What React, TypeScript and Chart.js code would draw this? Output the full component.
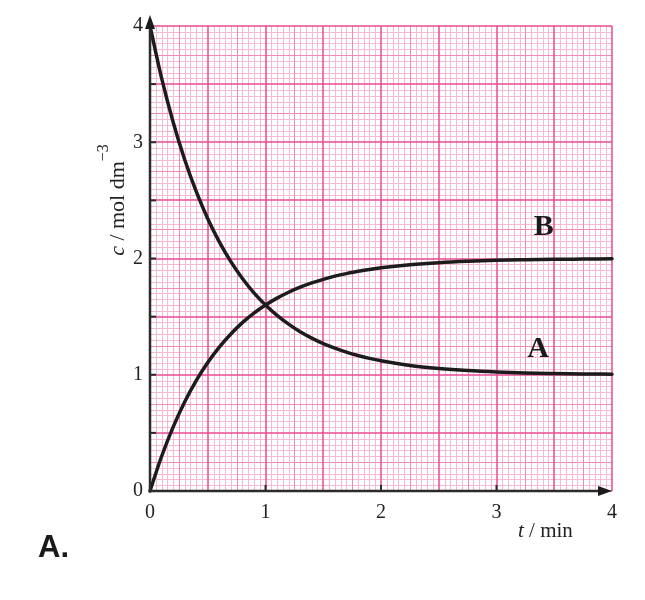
import React, { useEffect, useRef } from "react";
import { Chart, registerables } from "chart.js";

Chart.register(...registerables);

// time in minutes
const timeMin = [0, 0.1, 0.2, 0.3, 0.4, 0.5, 0.6, 0.7, 0.8, 0.9, 1.0, 1.1, 1.2, 1.3, 1.4, 1.5, 1.6, 1.7, 1.8, 1.9, 2.0, 2.25, 2.5, 2.75, 3.0, 3.25, 3.5, 3.75, 4.0];
// concentration of A (mol dm^-3)
const concA = [4.0, 3.554, 3.175, 2.852, 2.577, 2.342, 2.143, 1.973, 1.828, 1.705, 1.6, 1.511, 1.435, 1.37, 1.315, 1.268, 1.229, 1.195, 1.166, 1.141, 1.12, 1.08, 1.054, 1.036, 1.024, 1.016, 1.011, 1.007, 1.005];
// concentration of B (mol dm^-3)
const concB = [0, 0.297, 0.55, 0.766, 0.949, 1.105, 1.238, 1.351, 1.448, 1.53, 1.6, 1.659, 1.71, 1.753, 1.79, 1.821, 1.848, 1.87, 1.89, 1.906, 1.92, 1.946, 1.964, 1.976, 1.984, 1.989, 1.993, 1.995, 1.997];

const xLabelValues = [0, 1, 2, 3, 4];
const yLabelValues = [0, 1, 2, 3, 4];
const xTickMarks = [1, 2, 3];
const yTickMarks = [0.5, 1, 1.5, 2, 2.5, 3, 3.5];

const curveNames = ["A", "B"];
const curveLabelT = [3.36, 3.41];
const curveLabelC = [1.15, 2.2];

const AXIS_MIN = 0;
const AXIS_MAX = 4;

function gridKind(v: number): number {
  const r = Math.round(v * 100);
  if (r % 50 === 0) return 0;
  if (r % 25 === 0) return 1;
  return 2;
}
const gridColors = ["#e94c93", "#f08ab7", "#f6bad4"];
const gridWidths = [1.5, 1, 1];

const SERIF = "'Liberation Serif', 'Times New Roman', serif";
const INK = "#222222";

// graph-paper grid drawn from the scales' own ticks, finest first so heavier lines stay on top
const gridPlugin = {
  id: "paperGrid",
  beforeDatasetsDraw(chart: any) {
    const { ctx, chartArea: a, scales } = chart;
    const xs = scales.x;
    const ys = scales.y;
    ctx.save();
    [2, 1, 0].forEach((kind) => {
      const w = gridWidths[kind];
      const off = Math.round(w) % 2 === 1 ? 0.5 : 0;
      ctx.strokeStyle = gridColors[kind];
      ctx.lineWidth = w;
      ctx.beginPath();
      xs.ticks.forEach((t: any) => {
        if (gridKind(t.value) !== kind) return;
        const p = Math.round(xs.getPixelForValue(t.value)) + off;
        ctx.moveTo(p, a.top);
        ctx.lineTo(p, a.bottom);
      });
      ys.ticks.forEach((t: any) => {
        if (gridKind(t.value) !== kind) return;
        const p = Math.round(ys.getPixelForValue(t.value)) + off;
        ctx.moveTo(a.left, p);
        ctx.lineTo(a.right, p);
      });
      ctx.stroke();
    });
    ctx.restore();
  },
};

const decorPlugin = {
  id: "decor",
  afterDraw(chart: any) {
    const { ctx, scales } = chart;
    const xs = scales.x;
    const ys = scales.y;
    const x0 = xs.getPixelForValue(0);
    const y0 = ys.getPixelForValue(0);
    const x4 = xs.getPixelForValue(AXIS_MAX);
    const y4 = ys.getPixelForValue(AXIS_MAX);
    ctx.save();
    ctx.strokeStyle = "#2b2b2b";
    ctx.fillStyle = "#1a1a1a";
    ctx.lineWidth = 2.5;
    // x axis
    ctx.beginPath();
    ctx.moveTo(x0, y0);
    ctx.lineTo(x4 - 10, y0);
    ctx.stroke();
    ctx.beginPath();
    ctx.moveTo(x4, y0);
    ctx.lineTo(x4 - 14, y0 - 5);
    ctx.lineTo(x4 - 14, y0 + 5);
    ctx.closePath();
    ctx.fill();
    // y axis
    const yTip = y4 - 11;
    ctx.beginPath();
    ctx.moveTo(x0, y0);
    ctx.lineTo(x0, yTip + 10);
    ctx.stroke();
    ctx.beginPath();
    ctx.moveTo(x0, yTip);
    ctx.lineTo(x0 - 5, yTip + 14);
    ctx.lineTo(x0 + 5, yTip + 14);
    ctx.closePath();
    ctx.fill();
    // inward tick marks
    ctx.lineWidth = 2;
    yTickMarks.forEach((v) => {
      const py = ys.getPixelForValue(v);
      ctx.beginPath();
      ctx.moveTo(x0, py);
      ctx.lineTo(x0 + 6, py);
      ctx.stroke();
    });
    xTickMarks.forEach((v) => {
      const px = xs.getPixelForValue(v);
      ctx.beginPath();
      ctx.moveTo(px, y0);
      ctx.lineTo(px, y0 - 6);
      ctx.stroke();
    });

    // curve labels
    ctx.fillStyle = "#1a1a1a";
    ctx.font = `bold 30px ${SERIF}`;
    ctx.textAlign = "center";
    ctx.textBaseline = "alphabetic";
    curveNames.forEach((n, i) => {
      ctx.fillText(n, xs.getPixelForValue(curveLabelT[i]), ys.getPixelForValue(curveLabelC[i]));
    });

    // y axis title: c / mol dm^-3 (rotated)
    ctx.fillStyle = INK;
    ctx.textAlign = "left";
    ctx.save();
    ctx.translate(124, 200);
    ctx.rotate(-Math.PI / 2);
    const italicFont = `italic 22px ${SERIF}`;
    const normalFont = `22px ${SERIF}`;
    const supFont = `16px ${SERIF}`;
    ctx.font = italicFont;
    const wc = ctx.measureText("c").width;
    ctx.font = normalFont;
    const wRest = ctx.measureText(" / mol dm").width;
    ctx.font = supFont;
    const wSup = ctx.measureText("\u22123").width;
    let cx = -(wc + wRest + wSup) / 2;
    ctx.font = italicFont;
    ctx.fillText("c", cx, 0);
    cx += wc;
    ctx.font = normalFont;
    ctx.fillText(" / mol dm", cx, 0);
    cx += wRest;
    ctx.font = supFont;
    ctx.fillText("\u22123", cx, -16);
    ctx.restore();

    // x axis title: t / min
    const xItalic = `italic 21px ${SERIF}`;
    const xNormal = `21px ${SERIF}`;
    ctx.font = xItalic;
    const wt = ctx.measureText("t").width;
    ctx.fillText("t", 518, 537);
    ctx.font = xNormal;
    ctx.fillText(" / min", 518 + wt, 537);
    ctx.restore();
  },
};

export default function App() {
  const canvasRef = useRef<HTMLCanvasElement | null>(null);

  useEffect(() => {
    if (!canvasRef.current) return;
    const lineStyle = {
      borderColor: "#1c1c1c",
      borderWidth: 3.5,
      pointRadius: 0,
      cubicInterpolationMode: "monotone",
      borderCapStyle: "round",
      borderJoinStyle: "round",
      fill: false,
      clip: 6,
    };
    const chart = new Chart(canvasRef.current, {
      type: "line",
      data: {
        datasets: [
          { label: "A", data: timeMin.map((t, i) => ({ x: t, y: concA[i] })), ...lineStyle },
          { label: "B", data: timeMin.map((t, i) => ({ x: t, y: concB[i] })), ...lineStyle },
        ],
      },
      options: {
        animation: false,
        responsive: true,
        maintainAspectRatio: false,
        layout: { padding: { left: 0, right: 33, top: 26, bottom: 0 } },
        plugins: {
          legend: { display: false },
          tooltip: { enabled: false },
        },
        scales: {
          x: {
            type: "linear",
            min: AXIS_MIN,
            max: AXIS_MAX,
            border: { display: false },
            grid: { display: false, drawTicks: false },
            ticks: {
              stepSize: 0.05,
              autoSkip: false,
              maxRotation: 0,
              padding: 10,
              color: INK,
              font: { family: SERIF, size: 20 },
              callback: (v: any) => {
                const n = Number(v);
                return xLabelValues.some((l) => Math.abs(l - n) < 1e-6) ? String(Math.round(n)) : "";
              },
            },
            afterFit: (s: any) => {
              s.height = 109;
            },
          },
          y: {
            type: "linear",
            min: AXIS_MIN,
            max: AXIS_MAX,
            border: { display: false },
            grid: { display: false, drawTicks: false },
            ticks: {
              stepSize: 0.05,
              autoSkip: false,
              padding: 7,
              color: INK,
              font: { family: SERIF, size: 20 },
              callback: (v: any) => {
                const n = Number(v);
                return yLabelValues.some((l) => Math.abs(l - n) < 1e-6) ? String(Math.round(n)) : "";
              },
            },
            afterFit: (s: any) => {
              s.width = 150;
            },
          },
        },
      },
      plugins: [gridPlugin, decorPlugin],
    } as any);
    return () => chart.destroy();
  }, []);

  return (
    <div style={{ position: "fixed", left: 0, top: 0, width: 645, height: 600, background: "#ffffff" }}>
      <canvas ref={canvasRef} />
      <div
        style={{
          position: "absolute",
          left: 38,
          top: 531,
          fontFamily: "'Liberation Sans', Arial, sans-serif",
          fontWeight: "bold",
          fontSize: 31,
          lineHeight: "31px",
          color: "#1a1a1a",
        }}
      >
        A.
      </div>
    </div>
  );
}
